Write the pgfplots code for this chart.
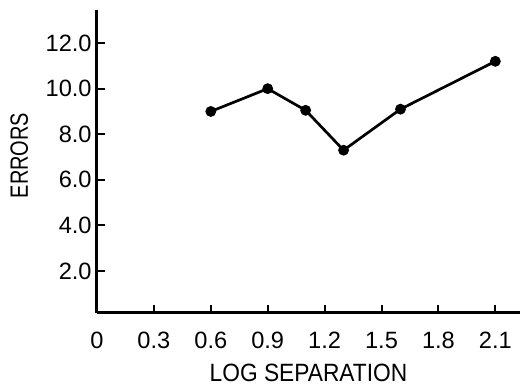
\documentclass[border=0pt]{standalone}
\usepackage{fontspec}
\setmainfont{Liberation Sans}
\usepackage{graphicx}
\usepackage{pgfplots}
\pgfplotsset{compat=1.18}
\begin{document}
\begin{tikzpicture}
\useasboundingbox (-48.5pt,-36.5pt) rectangle (212pt,156.5pt);
\begin{axis}[
  scale only axis,
  width=211.5pt, height=151.5pt,
  xmin=0, xmax=2.23,
  ymin=0.16, ymax=13.45,
  axis lines=left,
  axis line style={-, line width=1.5pt},
  xtick={0,0.3,0.6,0.9,1.2,1.5,1.8,2.1},
  xticklabels={0,0.3,0.6,0.9,1.2,1.5,1.8,2.1},
  ytick={2,4,6,8,10,12},
  yticklabels={2.0,4.0,6.0,8.0,10.0,12.0},
  tick align=inside,
  major tick length=4pt,
  tick style={line width=1pt, black},
  xticklabel style={font=\fontsize{11.8}{12}\selectfont, inner sep=0pt, anchor=north, yshift=-9.3pt},
  yticklabel style={font=\fontsize{11.8}{12}\selectfont, inner sep=0pt, anchor=east, xshift=-2.5pt},
  xlabel={\scalebox{0.91}[1]{LOG SEPARATION}},
  ylabel={\scalebox{0.8}[1]{ERRORS}},
  xlabel style={font=\fontsize{12.5}{13}\selectfont, at={(axis description cs:0.5,-0.198)}, anchor=center, inner sep=0pt},
  ylabel style={font=\fontsize{12.5}{13}\selectfont, at={(axis description cs:-0.184,0.52)}, anchor=center, inner sep=0pt},
  clip=false,
]
\addplot[black, line width=1.35pt, mark=*, mark size=2pt] coordinates {
  (0.6,9.0) (0.9,10.0) (1.1,9.05) (1.3,7.3) (1.6,9.1) (2.1,11.2)
};
\end{axis}
\end{tikzpicture}
\end{document}
